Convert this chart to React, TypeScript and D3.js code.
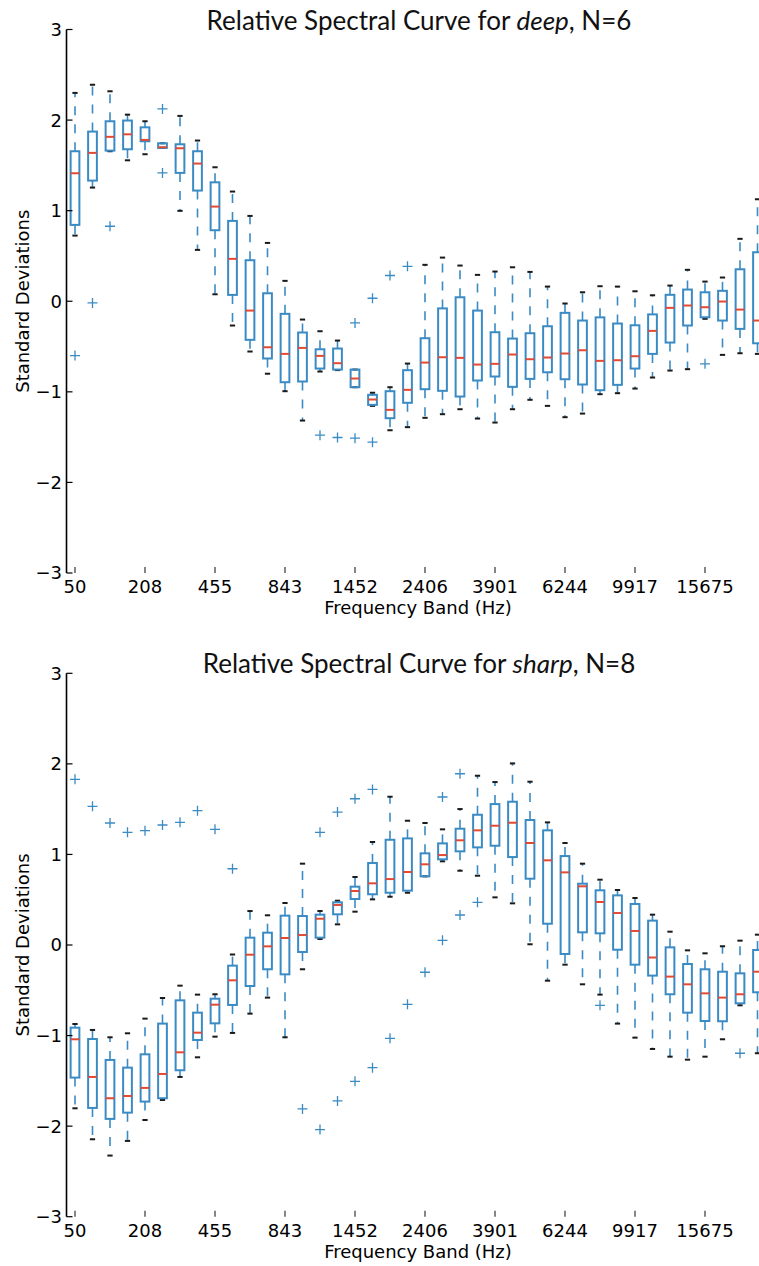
import React from "react";
import * as d3 from "d3";

// ---------- DATA ----------
const tickLabels = ["50", "208", "455", "843", "1452", "2406", "3901", "6244", "9917", "15675"];
const tickPositions = [1, 5, 9, 13, 17, 21, 25, 29, 33, 37];

// deep, N=6
const deepHigh = [2.30, 2.39, 2.318, 2.06, 1.987, 1.744, 2.046, 1.774, 1.479, 1.211, 0.942, 0.644, 0.225, -0.202, -0.331, -0.434, -0.754, -1.01, -0.949, -0.688, 0.402, 0.482, 0.394, 0.291, 0.328, 0.375, 0.324, 0.162, -0.025, 0.099, 0.166, 0.162, 0.110, 0.066, 0.173, 0.347, 0.217, 0.262, 0.689, 1.126];
const deepQ3 = [1.656, 1.873, 1.987, 1.995, 1.92, 1.744, 1.733, 1.656, 1.313, 0.887, 0.453, 0.088, -0.139, -0.345, -0.53, -0.522, -0.754, -1.033, -0.993, -0.761, -0.408, -0.079, 0.044, -0.103, -0.342, -0.412, -0.353, -0.276, -0.128, -0.213, -0.178, -0.246, -0.265, -0.145, 0.071, 0.129, 0.099, 0.115, 0.353, 0.541];
const deepMedian = [1.413, 1.638, 1.815, 1.843, 1.781, 1.70, 1.689, 1.52, 1.045, 0.468, -0.103, -0.508, -0.581, -0.515, -0.603, -0.684, -0.853, -1.085, -1.199, -0.978, -0.677, -0.618, -0.625, -0.699, -0.691, -0.588, -0.640, -0.621, -0.577, -0.541, -0.658, -0.651, -0.607, -0.327, -0.073, -0.047, -0.066, -0.003, -0.092, -0.213];
const deepQ1 = [0.843, 1.332, 1.663, 1.678, 1.766, 1.693, 1.417, 1.222, 0.784, 0.07, -0.426, -0.632, -0.894, -0.886, -0.743, -0.754, -0.949, -1.144, -1.291, -1.121, -0.971, -0.989, -1.052, -0.875, -0.831, -0.945, -0.857, -0.784, -0.861, -0.919, -0.982, -0.923, -0.743, -0.581, -0.456, -0.268, -0.177, -0.213, -0.305, -0.464];
const deepLow = [0.725, 1.255, 1.656, 1.556, 1.623, 1.693, 0.998, 0.567, 0.077, -0.268, -0.555, -0.80, -0.993, -1.317, -0.776, -0.76, -0.949, -1.155, -1.424, -1.39, -1.287, -1.247, -1.192, -1.295, -1.339, -1.192, -1.088, -1.155, -1.28, -1.24, -1.026, -1.015, -0.964, -0.842, -0.765, -0.75, -0.194, -0.592, -0.574, -0.581];
const deepFliers: [number, number][] = [
  [1, -0.60], [2, -0.018], [3, 0.828], [6, 2.123], [6, 1.417], [15, -1.479], [16, -1.504],
  [17, -0.239], [17, -1.512], [18, 0.033], [18, -1.556], [19, 0.284], [20, 0.386], [37, -0.691],
];

// sharp, N=8
const sharpHigh = [-0.872, -0.938, -1.019, -0.975, -0.813, -0.585, -0.449, -0.548, -0.544, -0.105, 0.375, 0.328, 0.464, 0.898, 0.375, 0.489, 0.751, 1.137, 1.637, 1.372, 1.347, 1.277, 1.501, 1.869, 1.799, 2.005, 1.803, 1.354, 1.126, 0.898, 0.721, 0.607, 0.519, 0.335, 0.147, -0.059, -0.092, -0.014, 0.048, 0.114];
const sharpQ3 = [-0.913, -1.038, -1.269, -1.354, -1.207, -0.868, -0.611, -0.747, -0.593, -0.228, 0.081, 0.136, 0.324, 0.32, 0.335, 0.471, 0.644, 0.905, 1.162, 1.177, 1.012, 1.122, 1.284, 1.438, 1.556, 1.582, 1.38, 1.266, 0.982, 0.677, 0.604, 0.548, 0.453, 0.269, -0.026, -0.21, -0.268, -0.295, -0.313, -0.055];
const sharpMedian = [-1.041, -1.457, -1.692, -1.667, -1.578, -1.424, -1.185, -0.968, -0.659, -0.39, -0.107, -0.015, 0.077, 0.11, 0.29, 0.442, 0.596, 0.681, 0.728, 0.806, 0.891, 0.993, 1.156, 1.266, 1.317, 1.35, 1.126, 0.935, 0.802, 0.648, 0.475, 0.353, 0.155, -0.138, -0.349, -0.434, -0.534, -0.581, -0.544, -0.295];
const sharpQ1 = [-1.464, -1.799, -1.92, -1.851, -1.729, -1.692, -1.383, -1.049, -0.865, -0.662, -0.453, -0.268, -0.324, -0.077, 0.081, 0.339, 0.508, 0.56, 0.577, 0.6, 0.758, 0.946, 1.034, 1.078, 1.096, 0.971, 0.732, 0.235, -0.099, 0.14, 0.129, -0.052, -0.217, -0.338, -0.544, -0.747, -0.839, -0.842, -0.644, -0.522];
const sharpLow = [-1.803, -2.145, -2.325, -2.163, -1.932, -1.711, -1.457, -1.24, -1.012, -0.971, -0.758, -0.581, -1.019, -0.268, 0.066, 0.228, 0.368, 0.504, 0.533, 0.577, 0.758, 0.924, 0.82, 0.765, 0.526, 0.46, 0.008, -0.394, -0.217, -0.434, -0.548, -0.868, -1.023, -1.148, -1.233, -1.266, -1.233, -1.041, -0.666, -1.195];
const sharpFliers: [number, number][] = [
  [1, 1.829], [2, 1.531], [3, 1.347], [4, 1.244], [5, 1.262], [6, 1.325], [7, 1.354], [8, 1.483], [9, 1.277],
  [10, 0.842], [14, -1.81], [15, 1.244], [15, -2.038], [16, 1.468], [16, -1.722], [17, 1.615], [17, -1.505],
  [18, 1.718], [18, -1.354], [19, -1.03], [20, -0.655], [21, -0.301], [22, 1.634], [22, 0.052],
  [23, 1.891], [23, 0.331], [24, 0.471], [31, -0.666], [39, -1.195],
];

const yTicks = [-3, -2, -1, 0, 1, 2, 3];

// ---------- STYLE ----------
const BLUE = "#3a8bc4";
const RED = "#e24a33";
const BLACK = "#1a1a1a";
const LABEL_FONT = "'DejaVu Sans', sans-serif";
const TITLE_FONT = "Lato, 'Open Sans', sans-serif";

type PanelProps = {
  word: string;
  n: number;
  high: number[];
  q3: number[];
  median: number[];
  q1: number[];
  low: number[];
  fliers: [number, number][];
  top: number;
  bottom: number;
};

function Panel({ word, n, high, q3, median, q1, low, fliers, top, bottom }: PanelProps) {
  const count = median.length;
  const x = d3.scaleLinear().domain([0.5, count + 0.5]).range([66.25, 766.25]);
  const y = d3.scaleLinear().domain([-3, 3]).range([bottom, top]);
  const unit = x(2) - x(1);
  const boxW = unit * 0.5;
  const capW = unit * 0.3;
  const axisX = 66.5;
  const cross = 5;

  return (
    <g>
      <text
        x={419}
        y={top}
        textAnchor="middle"
        fontFamily={TITLE_FONT}
        fontSize={26}
        fill="#111"
      >
        Relative Spectral Curve for <tspan fontStyle="italic">{word}</tspan>, N={n}
      </text>

      {/* boxes */}
      {median.map((m, i) => {
        const cx = x(i + 1);
        return (
          <g key={i}>
            <line x1={cx} x2={cx} y1={y(q3[i])} y2={y(high[i])} stroke={BLUE} strokeWidth={1.6} strokeDasharray="9,9" />
            <line x1={cx} x2={cx} y1={y(q1[i])} y2={y(low[i])} stroke={BLUE} strokeWidth={1.6} strokeDasharray="9,9" />
            <line x1={cx - capW / 2} x2={cx + capW / 2} y1={y(high[i])} y2={y(high[i])} stroke={BLACK} strokeWidth={2} />
            <line x1={cx - capW / 2} x2={cx + capW / 2} y1={y(low[i])} y2={y(low[i])} stroke={BLACK} strokeWidth={2} />
            <rect
              x={cx - boxW / 2}
              y={y(q3[i])}
              width={boxW}
              height={Math.max(0.5, y(q1[i]) - y(q3[i]))}
              fill="none"
              stroke={BLUE}
              strokeWidth={2}
            />
            <line x1={cx - boxW / 2} x2={cx + boxW / 2} y1={y(m)} y2={y(m)} stroke={RED} strokeWidth={2} />
          </g>
        );
      })}

      {/* fliers */}
      {fliers.map(([idx, v], k) => {
        const cx = x(idx);
        const cy = y(v);
        return (
          <path
            key={k}
            d={`M${cx - cross},${cy}H${cx + cross}M${cx},${cy - cross}V${cy + cross}`}
            stroke={BLUE}
            strokeWidth={1.3}
            fill="none"
          />
        );
      })}

      {/* left spine */}
      <line x1={axisX} x2={axisX} y1={top} y2={bottom} stroke="#000" strokeWidth={1.6} />
      {yTicks.map((t) => (
        <g key={t}>
          <line x1={axisX} x2={axisX + 6} y1={y(t)} y2={y(t)} stroke="#000" strokeWidth={1.2} />
          <text
            x={62}
            y={y(t)}
            dy="0.36em"
            textAnchor="end"
            fontFamily={LABEL_FONT}
            fontSize={18}
            fill="#000"
          >
            {t < 0 ? "\u2212" + Math.abs(t) : String(t)}
          </text>
        </g>
      ))}

      {/* x ticks */}
      {tickPositions.map((p, k) => (
        <g key={p}>
          <line x1={x(p)} x2={x(p)} y1={bottom} y2={bottom - 6} stroke="#333" strokeWidth={1.2} />
          <text
            x={x(p)}
            y={bottom + 20}
            textAnchor="middle"
            fontFamily={LABEL_FONT}
            fontSize={18}
            fill="#000"
          >
            {tickLabels[k]}
          </text>
        </g>
      ))}

      <text
        x={418}
        y={bottom + 41}
        textAnchor="middle"
        fontFamily={LABEL_FONT}
        fontSize={18}
        fill="#000"
      >
        Frequency Band (Hz)
      </text>
      <text
        transform={`translate(29,${(top + bottom) / 2}) rotate(-90)`}
        textAnchor="middle"
        fontFamily={LABEL_FONT}
        fontSize={18}
        fill="#000"
      >
        Standard Deviations
      </text>
    </g>
  );
}

export default function App() {
  return (
    <div style={{ position: "absolute", left: 0, top: 0 }}>
      <svg width={759} height={1266} style={{ display: "block", background: "#fff" }}>
        <Panel
          word="deep"
          n={6}
          high={deepHigh}
          q3={deepQ3}
          median={deepMedian}
          q1={deepQ1}
          low={deepLow}
          fliers={deepFliers}
          top={29.5}
          bottom={573}
        />
        <Panel
          word="sharp"
          n={8}
          high={sharpHigh}
          q3={sharpQ3}
          median={sharpMedian}
          q1={sharpQ1}
          low={sharpLow}
          fliers={sharpFliers}
          top={673.3}
          bottom={1216.7}
        />
      </svg>
    </div>
  );
}
